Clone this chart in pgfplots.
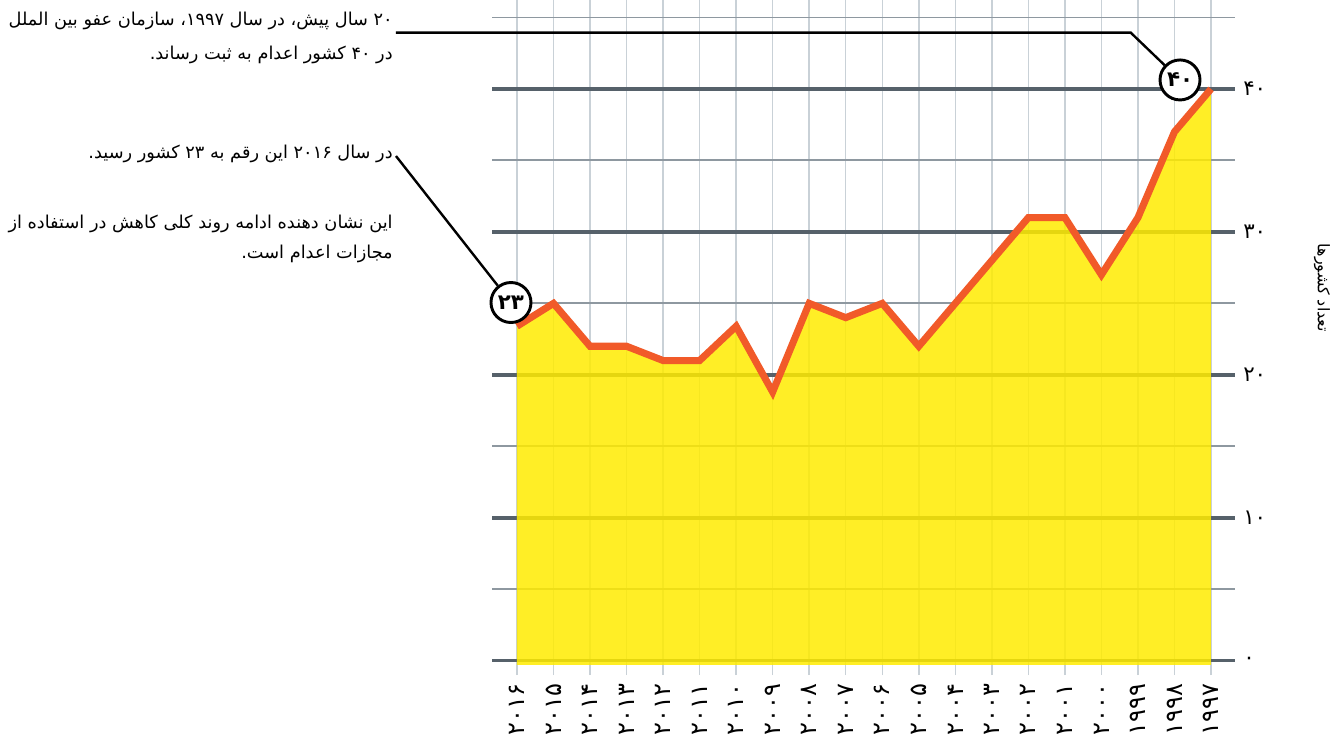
\documentclass[border=0pt]{standalone}
\usepackage{fontspec}
\usepackage{pgfplots}
\pgfplotsset{compat=1.18}
\TeXXeTstate=1
\newfontfamily\fa[Script=Arabic]{DejaVu Sans}
\definecolor{majgrid}{HTML}{56616A}
\definecolor{mingrid}{HTML}{8E98A0}
\definecolor{vgrid}{HTML}{C9D1D7}
\definecolor{fillyel}{HTML}{FFEB00}
\definecolor{linor}{HTML}{F15A29}
\begin{document}
\begin{tikzpicture}
\begin{axis}[
  at={(0,0)}, anchor=south west,
  scale only axis, width=557.25pt, height=506.25pt,
  xmin=1996.343, xmax=2016.684, x dir=reverse,
  ymin=-1, ymax=46.224,
  clip=false,
  axis line style={draw=none},
  major tick length=0pt, minor tick length=0pt,
  xtick={1997,1998,1999,2000,2001,2002,2003,2004,2005,2006,2007,2008,2009,2010,2011,2012,2013,2014,2015,2016},
  xticklabels={۱۹۹۷,۱۹۹۸,۱۹۹۹,۲۰۰۰,۲۰۰۱,۲۰۰۲,۲۰۰۳,۲۰۰۴,۲۰۰۵,۲۰۰۶,۲۰۰۷,۲۰۰۸,۲۰۰۹,۲۰۱۰,۲۰۱۱,۲۰۱۲,۲۰۱۳,۲۰۱۴,۲۰۱۵,۲۰۱۶},
  xticklabel style={font=\fa\fontsize{18}{18}\selectfont, rotate=90, anchor=east, inner xsep=6.5pt, inner ysep=0pt},
  ytick={0,10,20,30,40},
  yticklabels={۰,۱۰,۲۰,۳۰,۴۰},
  minor ytick={5,15,25,35,45},
  yticklabel pos=right,
  yticklabel style={font=\fa\fontsize{16}{16}\selectfont, anchor=west, inner xsep=6pt},
  xmajorgrids, ymajorgrids, yminorgrids,
  major x grid style={vgrid, line width=1.1pt},
  major y grid style={majgrid, line width=2.6pt},
  minor y grid style={mingrid, line width=1.4pt},
]
\addplot[draw=none, fill=fillyel, fill opacity=0.85] coordinates {
 (2016,-0.3) (2016,23.4) (2015,25) (2014,22) (2013,22) (2012,21) (2011,21)
 (2010,23.4) (2009,18.8) (2008,25) (2007,24) (2006,25) (2005,22) (2004,25)
 (2003,28) (2002,31) (2001,31) (2000,27) (1999,31) (1998,37) (1997,40) (1997,-0.3)
} -- cycle;
\addplot[linor, line width=5.3pt, mark=none] coordinates {
 (2016,23.4) (2015,25) (2014,22) (2013,22) (2012,21) (2011,21)
 (2010,23.4) (2009,18.8) (2008,25) (2007,24) (2006,25) (2005,22) (2004,25)
 (2003,28) (2002,31) (2001,31) (2000,27) (1999,31) (1998,37) (1997,40)
};
\node[circle, draw=black, line width=2.2pt, fill=white, minimum size=30pt, inner sep=0pt,
  font=\fa\bfseries\fontsize{16}{16}\selectfont] (c40) at (axis cs:1997.848,40.63) {۴۰};
\node[circle, draw=black, line width=2.2pt, fill=white, minimum size=30pt, inner sep=0pt,
  font=\fa\bfseries\fontsize{16}{16}\selectfont] (c23) at (axis cs:2016.164,25.06) {۲۳};
\draw[black, line width=1.8pt] (axis cs:2019.313,43.94) -- (axis cs:1999.198,43.94) -- (c40);
\draw[black, line width=1.8pt] (axis cs:2019.313,35.31) -- (c23);
\node[anchor=base east, inner sep=0pt, font=\fa\fontsize{13.3}{13.3}\selectfont] at (axis cs:2019.395,44.406)
  {\beginR\beginL ۲۰\endL{} سال پیش، در سال \beginL ۱۹۹۷\endL{}، سازمان عفو بین الملل\endR};
\node[anchor=base east, inner sep=0pt, font=\fa\fontsize{13.3}{13.3}\selectfont] at (axis cs:2019.395,42.028)
  {\beginR در \beginL ۴۰\endL{} کشور اعدام به ثبت رساند.\endR};
\node[anchor=base east, inner sep=0pt, font=\fa\fontsize{13.3}{13.3}\selectfont] at (axis cs:2019.395,35.105)
  {\beginR در سال \beginL ۲۰۱۶\endL{} این رقم به \beginL ۲۳\endL{} کشور رسید.\endR};
\node[anchor=base east, inner sep=0pt, font=\fa\fontsize{13.3}{13.3}\selectfont] at (axis cs:2019.395,30.21)
  {\beginR این نشان دهنده ادامه روند کلی کاهش در استفاده از\endR};
\node[anchor=base east, inner sep=0pt, font=\fa\fontsize{13.3}{13.3}\selectfont] at (axis cs:2019.395,28.11)
  {\beginR مجازات اعدام است.\endR};
\node[rotate=-90, font=\fa\fontsize{12}{12}\selectfont] at (axis cs:1993.961,26.08)
  {\beginR تعداد کشورها\endR};
\end{axis}
\pgfresetboundingbox
\path[use as bounding box] (-369pt,-53.25pt) rectangle (639pt,506.25pt);
\end{tikzpicture}
\end{document}
